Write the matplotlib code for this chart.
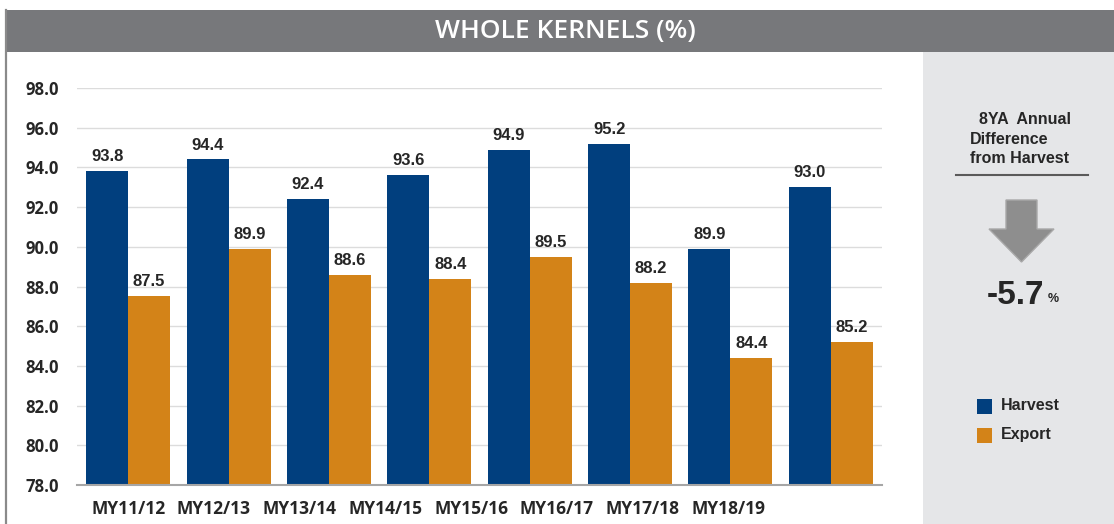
import matplotlib
matplotlib.use("Agg")
import matplotlib.pyplot as plt
from matplotlib.patches import Rectangle, Polygon
import numpy as np

# ---- data ----
seasons = ["MY11/12", "MY12/13", "MY13/14", "MY14/15",
           "MY15/16", "MY16/17", "MY17/18", "MY18/19"]
harvest = [93.8, 94.4, 92.4, 93.6, 94.9, 95.2, 89.9, 93.0]
export = [87.5, 89.9, 88.6, 88.4, 89.5, 88.2, 84.4, 85.2]
yticks = [78.0, 80.0, 82.0, 84.0, 86.0, 88.0, 90.0, 92.0, 94.0, 96.0, 98.0]
avg_diff = -5.7

BLUE = "#013F7E"
ORANGE = "#D38318"
HEADER = "#77787B"
PANEL = "#E5E6E8"
TEXT = "#262626"

W, H = 1114, 524
fig = plt.figure(figsize=(W / 100, H / 100), dpi=100)
fig.patch.set_facecolor("white")


def fx(x):
    return x / W


def fy(y):
    return 1 - y / H


# header band and side panel
fig.patches.append(Rectangle((fx(5), fy(52)), fx(W) - fx(5), fy(10) - fy(52),
                             transform=fig.transFigure, facecolor=HEADER,
                             edgecolor="none", zorder=0))
fig.patches.append(Rectangle((fx(923), 0), 1 - fx(923), fy(52),
                             transform=fig.transFigure, facecolor=PANEL,
                             edgecolor="none", zorder=0))
fig.lines.append(plt.Line2D([fx(5.5), fx(5.5)], [0, fy(10)], transform=fig.transFigure,
                            color="#8A8A8A", lw=1.6))
fig.text(fx(565), fy(32), "WHOLE KERNELS (%)", color="white", fontsize=19,
         ha="center", va="center", family="Open Sans", fontweight="semibold")

# ---- bar chart ----
ax = fig.add_axes([fx(77), fy(485), fx(882) - fx(77), fy(88) - fy(485)])
x = np.arange(len(seasons))
bw = 0.418
ax.bar(x - bw / 2, [h - 78 for h in harvest], bw, bottom=78, color=BLUE, zorder=2)
ax.bar(x + bw / 2, [e - 78 for e in export], bw, bottom=78, color=ORANGE, zorder=2)

for xi, v in zip(x, harvest):
    ax.text(xi - bw / 2, v + 0.35, f"{v:.1f}", ha="center", va="bottom",
            fontsize=12, fontweight="bold", color=TEXT, family="Liberation Sans")
for xi, v in zip(x, export):
    ax.text(xi + bw / 2, v + 0.35, f"{v:.1f}", ha="center", va="bottom",
            fontsize=12, fontweight="bold", color=TEXT, family="Liberation Sans")

ax.set_xlim(-0.51, 7.51)
ax.set_ylim(78, 98)
ax.set_yticks(yticks)
ax.set_yticklabels([f"{t:.1f}" for t in yticks], fontsize=12, fontweight="bold",
                   color=TEXT, family="Open Sans")
# category labels sit on a tighter pitch than the bar groups
ax.set_xticks(x * 0.854)
ax.set_xticklabels(seasons, fontsize=12.5, fontweight="bold", color=TEXT, family="Open Sans")
ax.tick_params(axis="both", length=0)
ax.tick_params(axis="y", pad=13)
ax.tick_params(axis="x", pad=11)
ax.grid(axis="y", color="#DCDCDC", lw=1, zorder=0)
for s in ["top", "right", "left"]:
    ax.spines[s].set_visible(False)
ax.spines["bottom"].set_color("#A6A6A6")
ax.spines["bottom"].set_linewidth(1.5)
ax.spines["bottom"].set_zorder(3)

# ---- side panel ----
fig.text(fx(970), fy(139), "  8YA  Annual\nDifference\nfrom Harvest", ha="left", va="center",
         fontsize=11.5, fontweight="bold", color=TEXT, family="Liberation Sans",
         linespacing=1.38)
fig.lines.append(plt.Line2D([fx(956), fx(1088)], [fy(175), fy(175)],
                            transform=fig.transFigure, color="#5A5A5A", lw=1.5))
arrow = [(1006, 200), (1037, 200), (1037, 229), (1054, 229), (1021.5, 262),
         (989, 229), (1006, 229)]
fig.patches.append(Polygon([(fx(a), fy(b)) for a, b in arrow], closed=True,
                           transform=fig.transFigure, facecolor="#8E8E8E",
                           edgecolor="#A8A8A8", lw=1))
fig.text(fx(1044), fy(296), f"{avg_diff:.1f}", ha="right", va="center",
         fontsize=24, fontweight="bold", color=TEXT, family="Liberation Sans")
fig.text(fx(1048), fy(299), "%", ha="left", va="center", fontsize=9,
         fontweight="bold", color=TEXT, family="Liberation Sans")

# legend
for yy, col, lab in [(406, BLUE, "Harvest"), (435, ORANGE, "Export")]:
    fig.patches.append(Rectangle((fx(977), fy(yy + 7.5)), fx(15), fy(0) - fy(15),
                                 transform=fig.transFigure, facecolor=col, edgecolor="none"))
    fig.text(fx(1001), fy(yy), lab, ha="left", va="center", fontsize=11.5,
             fontweight="bold", color=TEXT, family="Liberation Sans")

fig.savefig("out.png", dpi=100)
